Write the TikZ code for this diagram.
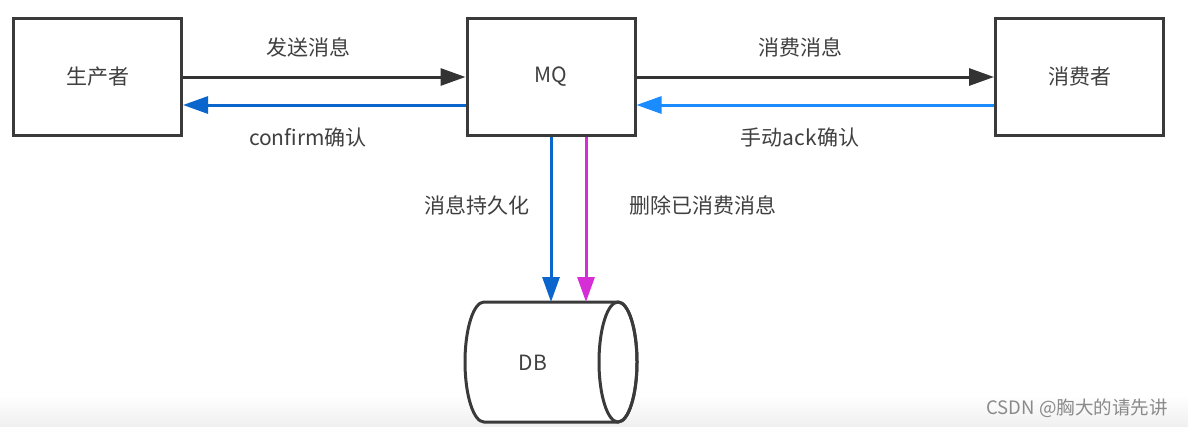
\documentclass[tikz,border=0pt]{standalone}
\usepackage{fontspec}
\setmainfont{Noto Sans CJK SC}
\usetikzlibrary{arrows.meta,calc}
\definecolor{boxline}{HTML}{3A3A3A}
\definecolor{txt}{HTML}{404040}
\definecolor{darkarrow}{HTML}{333333}
\definecolor{blueA}{HTML}{0A66CC}
\definecolor{blueB}{HTML}{1A8CFF}
\definecolor{magentaA}{HTML}{D62ED6}
\definecolor{wm}{HTML}{8A8A8A}
\begin{document}
\begin{tikzpicture}[x=1pt,y=-1pt,
  box/.style={draw=boxline,line width=3pt,minimum width=168pt,minimum height=117pt,inner sep=0pt,text=txt,font=\fontsize{21}{25}\selectfont},
  lbl/.style={text=txt,font=\fontsize{21}{25}\selectfont,inner sep=0pt},
  conn/.style={line width=3pt,-{Triangle[length=25pt,width=17pt]}}]
\useasboundingbox (0,0) rectangle (1188,426);
\fill[white] (0,0) rectangle (1188,426);
\shade[top color=white,bottom color=black!6] (0,396) rectangle (1188,426);
% boxes
\node[box] (prod) at (97.5,77) {生产者};
\node[box] (mq) at (551,77) {MQ};
\node[box] (cons) at (1079.5,77) {消费者};
% DB cylinder
\coordinate (dbtl) at (484,302);
\coordinate (dbtr) at (618,302);
\draw[boxline,line width=3pt,fill=white] (dbtl) -- (dbtr) arc[start angle=90,end angle=-90,x radius=19pt,y radius=60pt] -- (484,422) arc[start angle=270,end angle=90,x radius=19pt,y radius=60pt] -- cycle;
\draw[boxline,line width=3pt] (618,362) ellipse[x radius=19pt,y radius=60pt];
\node[lbl] (db) at (533,363) {DB};
\coordinate (dbin1) at (551,302);
\coordinate (dbin2) at (586,302);
% horizontal connectors
\draw[conn,darkarrow] (prod.east) -- (mq.west);
\draw[conn,blueA] ([yshift=-28pt]mq.west) -- ([yshift=-28pt]prod.east);
\draw[conn,darkarrow] (mq.east) -- (cons.west);
\draw[conn,blueB] ([yshift=-28pt]cons.west) -- ([yshift=-28pt]mq.east);
% vertical connectors
\draw[conn,blueA] (mq.south) -- (dbin1);
\draw[conn,magentaA] ([xshift=35pt]mq.south) -- (dbin2);
% labels
\node[lbl] (l1) at (308,47) {发送消息};
\node[lbl] (l2) at (308,137) {confirm确认};
\node[lbl] (l3) at (800,47) {消费消息};
\node[lbl] (l4) at (800,137) {手动ack确认};
\node[lbl] (l5) at (477,205) {消息持久化};
\node[lbl] (l6) at (703,205) {删除已消费消息};
\node[text=wm,font=\fontsize{18.5}{22}\selectfont,inner sep=0pt] (wmk) at (1077,408) {CSDN @胸大的请先讲};
\end{tikzpicture}
\end{document}
